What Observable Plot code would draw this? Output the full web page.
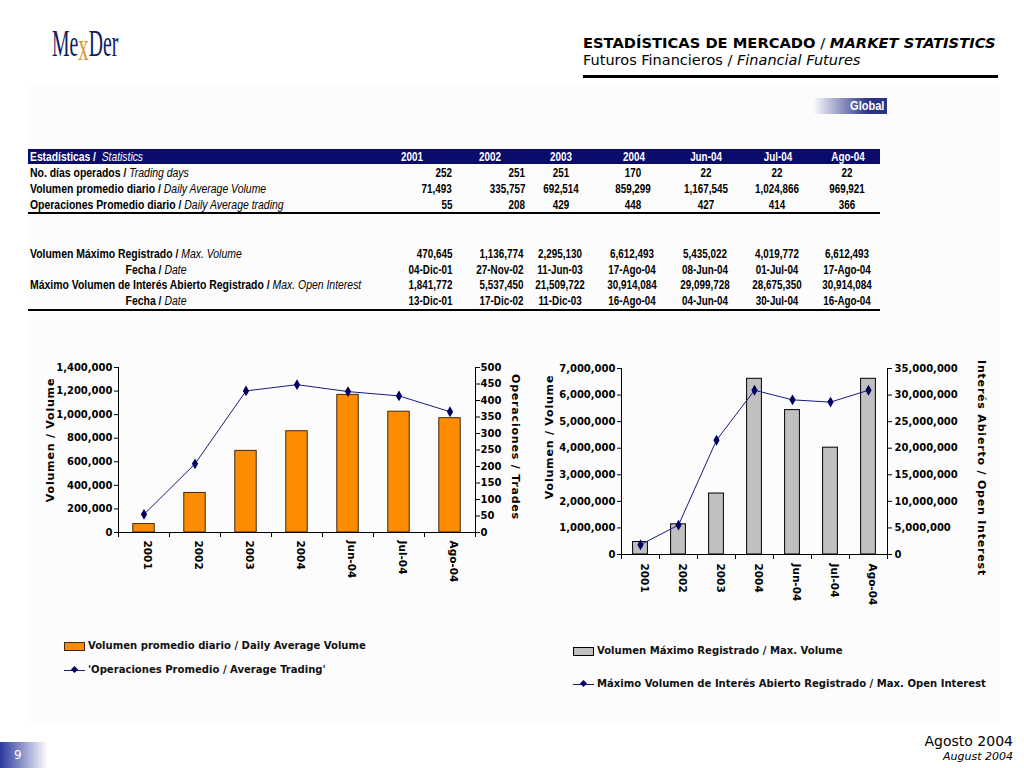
<!DOCTYPE html>
<html><head><meta charset="utf-8">
<script src="https://cdn.jsdelivr.net/npm/d3@7"></script>
<script src="https://cdn.jsdelivr.net/npm/@observablehq/plot@0.6"></script>
<style>
body{margin:0;background:#fff;}
#page{position:relative;width:1024px;height:768px;overflow:hidden;font-family:"DejaVu Sans",Verdana,sans-serif;color:#000;background:#fff;}
.abs{position:absolute;white-space:nowrap;}
.tc{position:absolute;white-space:nowrap;font-family:"Liberation Sans",Arial,sans-serif;font-weight:bold;font-size:12px;line-height:14px;height:14px;}
.tc i{font-weight:normal;}
.ax{position:absolute;white-space:nowrap;font-family:"DejaVu Sans",sans-serif;font-weight:bold;font-size:11px;letter-spacing:0.8px;}
.lg{position:absolute;white-space:nowrap;font-family:"DejaVu Sans Condensed","DejaVu Sans",sans-serif;font-weight:bold;font-size:11.2px;line-height:14px;color:#111;}
.chart{position:absolute;}
.chart svg{position:absolute;left:0;top:0;max-width:none;}
</style></head><body><div id="page"></div>
<script>
// ---------- data ----------
const periods = ["2001","2002","2003","2004","Jun-04","Jul-04","Ago-04"];
const tradingDays = [252,251,251,170,22,22,22];
const dailyAvgVolume = [71493,335757,692514,859299,1167545,1024866,969921];
const dailyAvgTrading = [55,208,429,448,427,414,366];
const maxVolume = [470645,1136774,2295130,6612493,5435022,4019772,6612493];
const maxVolumeDate = ["04-Dic-01","27-Nov-02","11-Jun-03","17-Ago-04","08-Jun-04","01-Jul-04","17-Ago-04"];
const maxOpenInterest = [1841772,5537450,21509722,30914084,29099728,28675350,30914084];
const maxOpenInterestDate = ["13-Dic-01","17-Dic-02","11-Dic-03","16-Ago-04","04-Jun-04","30-Jul-04","16-Ago-04"];
const volTicks = d3.range(0, 1400001, 200000);
const tradeTicks = d3.range(0, 501, 50);
const maxVolTicks = d3.range(0, 7000001, 1000000);
const oiTicks = d3.range(0, 35000001, 5000000);

const page = document.getElementById("page");
function el(tag, cls, style, html){const e=document.createElement(tag); if(cls) e.className=cls; Object.assign(e.style, style||{}); if(html!==undefined) e.innerHTML=html; page.appendChild(e); return e;}
const fmt = d3.format(",");

// ---------- background & header ----------
el("div","abs",{left:"28px",top:"85px",width:"972px",height:"637px",background:"#fcfcfc"});
el("div","abs",{left:"52px",top:"20px",fontFamily:"'Liberation Serif',serif",fontSize:"38px",color:"#10205e",transform:"scaleX(0.52)",transformOrigin:"left top",lineHeight:"46px"},
  'Me<span style="color:#d8972e;position:relative;top:4px;font-size:40px">x</span>Der');
el("div","abs",{left:"583px",top:"34px",fontSize:"14.7px",lineHeight:"18px"},
  '<b>ESTADÍSTICAS DE MERCADO</b> / <b><i>MARKET STATISTICS</i></b>');
el("div","abs",{left:"583px",top:"51px",fontSize:"14.5px",lineHeight:"18px"},
  'Futuros Financieros / <i>Financial Futures</i>');
el("div","abs",{left:"583px",top:"75px",width:"415px",height:"3px",background:"#000"});
el("div","abs",{left:"813px",top:"98px",width:"74px",height:"16px",background:"linear-gradient(to right, rgba(255,255,255,0), #2a3388 75%)"});
el("div","abs",{left:"887px",top:"98px",fontFamily:"'Liberation Sans',Arial,sans-serif",fontWeight:"bold",fontSize:"13px",lineHeight:"16px",color:"#fff",transform:"translateX(-100%) scaleX(0.85)",transformOrigin:"right top",paddingRight:"3px"},"Global");

// ---------- table ----------
const colX = [452,525,561,633,706,777,847];
const colAlign = ["right","right","center","center","center","center","center"];
const headX = [412,490,561,634,706,778,848];
function cell(html, x, y, align, extra, sx){
  sx = sx || 0.82;
  const s = Object.assign({top:(y-7)+"px"}, extra||{});
  if(align==="left"){ s.left=x+"px"; s.transform=`scaleX(${sx})`; s.transformOrigin="left center"; }
  else if(align==="right"){ s.right=(1024-x)+"px"; s.transform=`scaleX(${sx})`; s.transformOrigin="right center"; }
  else { s.left=x+"px"; s.transform=`translateX(-50%) scaleX(${sx})`; s.transformOrigin="center center"; }
  return el("div","tc",s,html);
}
el("div","abs",{left:"28px",top:"149px",width:"852px",height:"15px",background:"#0b0b6b"});
cell('Estadísticas / &nbsp;<i>Statistics</i>',30,157,"left",{color:"#fff"},0.86);
periods.forEach((p,i)=>cell(p, headX[i], 157, "center", {color:"#fff"}));
const block1 = [
  ['No. días operados / <i>Trading days</i>', tradingDays.map(String)],
  ['Volumen promedio diario / <i>Daily Average Volume</i>', dailyAvgVolume.map(fmt)],
  ['Operaciones Promedio diario / <i>Daily Average trading</i>', dailyAvgTrading.map(String)]
];
const y1 = [173,189,205];
block1.forEach((r,j)=>{ cell(r[0],30,y1[j],"left",null,0.87); r[1].forEach((v,i)=>cell(v,colX[i],y1[j],colAlign[i])); });
el("div","abs",{left:"28px",top:"212px",width:"852px",height:"2px",background:"#000"});
const colX2 = [452,523,560,632,705,777,847];
const block2 = [
  ['Volumen Máximo Registrado / <i>Max. Volume</i>', maxVolume.map(fmt), "left", 30],
  ['Fecha / <i>Date</i>', maxVolumeDate, "center", 156],
  ['Máximo Volumen de Interés Abierto Registrado / <i>Max. Open Interest</i>', maxOpenInterest.map(fmt), "left", 30],
  ['Fecha / <i>Date</i>', maxOpenInterestDate, "center", 156]
];
const y2 = [254,269.5,285,300.5];
block2.forEach((r,j)=>{ cell(r[0],r[3],y2[j],r[2],null,0.87); r[1].forEach((v,i)=>cell(v,colX2[i],y2[j],colAlign[i])); });
el("div","abs",{left:"28px",top:"309px",width:"852px",height:"2px",background:"#000"});

// ---------- charts ----------
function dualChart(o){
  const n = periods.length;
  const step = (o.width - o.ml - o.mr)/n;
  const xOpts = {domain: periods, paddingInner: 1-o.ratio, paddingOuter: (1-o.ratio)/2, round:false, axis:null};
  const common = {width:o.width, height:o.height, marginLeft:o.ml, marginRight:o.mr, marginTop:o.mt, marginBottom:o.mb,
    style:{fontFamily:"'DejaVu Sans',sans-serif", fontSize:"10px", fontWeight:"bold", background:"transparent", overflow:"visible", color:"#000"}};
  const data = periods.map((p,i)=>({p, b:o.bars[i], l:o.line[i]}));
  const tickLen = o.barDomain[1]*5/(o.height-o.mt-o.mb);
  const p1 = Plot.plot({...common, x:xOpts, y:{domain:o.barDomain, axis:null},
    marks:[
      Plot.barY(data,{x:"p", y:"b", fill:o.fill, stroke:o.stroke, strokeWidth:1}),
      Plot.axisY({anchor:"left", ticks:o.barTicks, tickFormat:fmt, tickSize:4, tickPadding:2, label:null, stroke:"#000"}),
      Plot.ruleY([0],{stroke:"#000"}),
      Plot.ruleX([periods[0]],{dx:-step/2, stroke:"#000"}),
      Plot.ruleX(periods,{dx:-step/2, y1:0, y2:-tickLen, stroke:"#000"}),
      Plot.ruleX([periods[n-1]],{dx:step/2, y1:0, y2:-tickLen, stroke:"#000"}),
      Plot.text(periods,{x:d=>d, text:d=>d, frameAnchor:"bottom", rotate:90, textAnchor:"start", dy:o.labelDy, fill:"#000", fontSize:10.5})
    ]});
  const p2 = Plot.plot({...common, x:xOpts, y:{domain:o.lineDomain, axis:null},
    marks:[
      Plot.ruleX([periods[n-1]],{dx:step/2, stroke:"#000"}),
      Plot.axisY({anchor:"right", ticks:o.lineTicks, tickFormat:fmt, tickSize:4, tickPadding:o.rPad, label:null, stroke:"#000"}),
      Plot.line(data,{x:"p", y:"l", stroke:"#1a1a80", strokeWidth:1}),
      Plot.dot(data,{x:"p", y:"l", symbol:"diamond", r:3.3, fill:"#000060", stroke:"none"})
    ]});
  const box = el("div","chart",{left:o.left+"px", top:o.top+"px", width:o.width+"px", height:o.height+"px"});
  box.appendChild(p1); box.appendChild(p2);
}
dualChart({left:30, top:355, width:500, height:245, ml:88, mr:55, mt:12, mb:68, ratio:0.42, rPad:1,
  bars:dailyAvgVolume, barDomain:[0,1400000], barTicks:volTicks, fill:"#ff8c00", stroke:"#3a2a10",
  line:dailyAvgTrading, lineDomain:[0,500], lineTicks:tradeTicks, labelDy:8});
dualChart({left:530, top:355, width:494, height:265, ml:91, mr:137, mt:13, mb:66, ratio:0.39, rPad:3,
  bars:maxVolume, barDomain:[0,7000000], barTicks:maxVolTicks, fill:"#c0c0c0", stroke:"#000",
  line:maxOpenInterest, lineDomain:[0,35000000], lineTicks:oiTicks, labelDy:9});

// axis titles
function axTitle(text, cx, cy, rot){ el("div","ax",{left:cx+"px", top:cy+"px", transform:`translate(-50%,-50%) rotate(${rot}deg)`}, text); }
axTitle("Volumen / Volume", 50, 440, -90);
axTitle("Operaciones / Trades", 515, 447, 90);
axTitle("Volumen / Volume", 549, 437, -90);
axTitle("Interés Abierto / Open Interest", 981, 468, 90);

// legends
function swatch(x, cy, fill, stroke){ el("div","abs",{left:x+"px", top:(cy-4)+"px", width:"19px", height:"7px", background:fill, border:"1px solid "+stroke}); }
function lineKey(x, cy){ el("div","abs",{left:x+"px", top:(cy-0.5)+"px", width:"21px", height:"1px", background:"#1a1a80"});
  el("div","abs",{left:(x+8)+"px", top:(cy-3)+"px", width:"5px", height:"5px", background:"#000060", transform:"rotate(45deg)"}); }
swatch(64,646,"#ff8c00","#3a2a10");
el("div","lg",{left:"88px", top:"639px"},"Volumen promedio diario / Daily Average Volume");
lineKey(64,670);
el("div","lg",{left:"88px", top:"663px"},"'Operaciones Promedio / Average Trading'");
swatch(573,651,"#c0c0c0","#000");
el("div","lg",{left:"597px", top:"644px"},"Volumen Máximo Registrado / Max. Volume");
lineKey(573,684);
el("div","lg",{left:"597px", top:"677px"},"Máximo Volumen de Interés Abierto Registrado / Max. Open Interest");

// footer
el("div","abs",{left:"0px", top:"742px", width:"48px", height:"26px", background:"linear-gradient(to right, #2b3a9c, rgba(255,255,255,0))"});
el("div","abs",{left:"14px", top:"747px", fontSize:"12px", color:"#fff", lineHeight:"16px"},"9");
el("div","abs",{right:"11px", top:"732px", fontSize:"14px", lineHeight:"18px", textAlign:"right"},"Agosto 2004");
el("div","abs",{right:"11px", top:"750px", fontSize:"11px", lineHeight:"14px", fontStyle:"italic", textAlign:"right"},"August 2004");
</script></body></html>
